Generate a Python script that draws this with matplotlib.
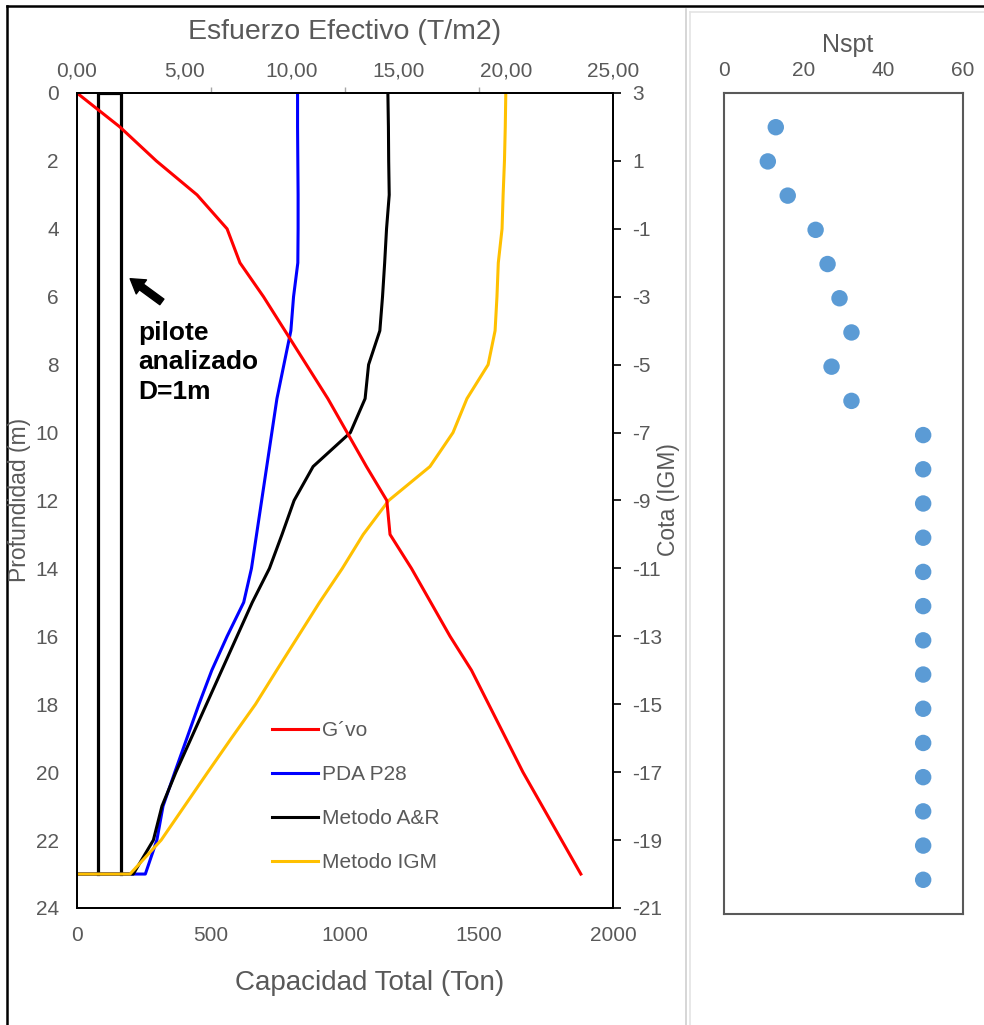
import matplotlib
matplotlib.use('Agg')
import matplotlib.pyplot as plt
from matplotlib.lines import Line2D

plt.rcParams['font.family'] = ['Liberation Sans', 'DejaVu Sans']

GRIS = '#595959'

# profundidad (m) para las curvas
prof = [0, 1, 2, 3, 4, 5, 6, 7, 8, 9, 10, 11, 12, 13, 14, 15, 16, 17, 18, 19, 20, 21, 22, 23]

# esfuerzo efectivo G'vo (T/m2)
gvo = [0, 2.0, 3.7, 5.6, 7.0, 7.6, 8.7, 9.7, 10.7, 11.7, 12.6, 13.5, 14.45, 14.6,
       15.6, 16.5, 17.4, 18.4, 19.2, 20.0, 20.8, 21.7, 22.6, 23.5]

# capacidad total (Ton)
pda_p28 = [823, 823, 824, 825, 825, 824, 808, 798, 772, 746, 727, 708, 689, 670,
           651, 622, 560, 503, 455, 410, 365, 321, 298, 255]
metodo_ar = [1160, 1162, 1163, 1165, 1155, 1148, 1140, 1130, 1088, 1075, 1020, 881, 810, 765,
             718, 654, 597, 540, 483, 426, 369, 317, 285, 210]
metodo_igm = [1600, 1598, 1595, 1590, 1586, 1572, 1567, 1560, 1534, 1455, 1403, 1317, 1163, 1068,
              990, 905, 825, 745, 666, 576, 488, 401, 314, 198]

# pilote analizado (Ton, m)
pilote_x = [79, 79, 163, 163]
pilote_y = [23, 0, 0, 23]

# Nspt
prof_spt = [1, 2, 3, 4, 5, 6, 7, 8, 9, 10, 11, 12, 13, 14, 15, 16, 17, 18, 19, 20, 21, 22, 23]
nspt = [13, 11, 16, 23, 26, 29, 32, 27, 32, 50, 50, 50, 50, 50, 50, 50, 50, 50, 50, 50, 50, 50, 50]

W, H = 984, 1025
fig = plt.figure(figsize=(W / 100, H / 100), dpi=100)


def fx(px):
    return px / W


def fy(py):
    return 1 - py / H


# ---------- grafico principal ----------
ax = fig.add_axes([fx(77), fy(908), fx(613 - 77), (908 - 93) / H])
ax.set_xlim(0, 2000)
ax.set_ylim(24, 0)

ax.plot(pilote_x, pilote_y, color='black', lw=2.3, solid_joinstyle='miter')
l_pda, = ax.plot(pda_p28 + [200, 0], prof + [23, 23], color='#0000ff', lw=2.2)
l_ar, = ax.plot(metodo_ar + [0], prof + [23], color='black', lw=2.2)
l_igm, = ax.plot(metodo_igm + [0], prof + [23], color='#ffc000', lw=2.2)

ax.set_xticks([0, 500, 1000, 1500, 2000])
ax.set_yticks(range(0, 25, 2))
ax.tick_params(axis='x', length=0, pad=13, labelsize=15, labelcolor=GRIS)
ax.tick_params(axis='y', length=0, pad=13, labelsize=15, labelcolor=GRIS)
for s in ax.spines.values():
    s.set_color('black')
    s.set_linewidth(1.2)

ax.annotate('', xy=(190, 5.42), xytext=(325, 6.2),
            arrowprops=dict(arrowstyle='simple,head_length=1.0,head_width=1.25,tail_width=0.5',
                            color='black'))
ax.text(228, 6.7, 'pilote\nanalizado\nD=1m', fontsize=19, fontweight='bold',
        va='top', ha='left', linespacing=1.3, color='black')

# eje superior: esfuerzo efectivo
ax_top = ax.twiny()
ax_top.set_xlim(0, 25)
l_gvo, = ax_top.plot(gvo, prof, color='#ff0000', lw=2.2)
esf_ticks = [0, 5, 10, 15, 20, 25]
ax_top.set_xticks(esf_ticks)
ax_top.set_xticklabels([f'{v:.2f}'.replace('.', ',') for v in esf_ticks])
ax_top.set_xticks([0, 6.25, 12.5, 18.75, 25], minor=True)
ax_top.tick_params(axis='x', which='major', length=0, pad=9, labelsize=15, labelcolor=GRIS)
ax_top.tick_params(axis='x', which='minor', length=4, width=1, color='#a6a6a6')

# eje derecho: cota
ax_r = ax.twinx()
ax_r.set_ylim(-21, 3)
cotas = list(range(3, -22, -2))
ax_r.set_yticks(cotas)
ax_r.set_yticklabels([str(c) for c in cotas])
ax_r.tick_params(axis='y', length=6, width=1.2, color='black', direction='out',
                 pad=8, labelsize=15, labelcolor=GRIS)
for a in (ax_top, ax_r):
    for s in a.spines.values():
        s.set_color('black')
        s.set_linewidth(1.2)

ax_r.legend([l_gvo, l_pda, l_ar, l_igm], ['G´vo', 'PDA P28', 'Metodo A&R', 'Metodo IGM'],
            loc='upper left', bbox_to_anchor=(fx(272), fy(721)), bbox_transform=fig.transFigure,
            frameon=False, fontsize=15, handlelength=2.2, handletextpad=0.2,
            labelspacing=1.2, borderpad=0, borderaxespad=0, labelcolor=GRIS)

fig.text(fx(345), fy(32), 'Esfuerzo Efectivo (T/m2)', fontsize=20.5, color=GRIS,
         ha='center', va='center')
fig.text(fx(370), fy(983), 'Capacidad Total (Ton)', fontsize=20, color=GRIS,
         ha='center', va='center')
fig.text(fx(20), fy(500), 'Profundidad (m)', fontsize=16.5, color=GRIS,
         ha='center', va='center', rotation=90)
fig.text(fx(669), fy(500), 'Cota (IGM)', fontsize=16.5, color=GRIS,
         ha='center', va='center', rotation=90)

# ---------- grafico Nspt ----------
ax2 = fig.add_axes([fx(724), fy(914), fx(963 - 724), (914 - 93) / H])
ax2.set_xlim(0, 60)
ax2.set_ylim(24, 0)
ax2.scatter(nspt, prof_spt, s=140, color='#5b9bd5', edgecolors='none')
ax2.xaxis.tick_top()
ax2.set_xticks([0, 20, 40, 60])
ax2.set_yticks([])
ax2.tick_params(axis='x', length=0, pad=9, labelsize=15, labelcolor=GRIS)
for s in ax2.spines.values():
    s.set_color(GRIS)
    s.set_linewidth(1.5)
fig.text(fx(848), fy(45), 'Nspt', fontsize=18, color=GRIS, ha='center', va='center')

# marcos
fig.add_artist(Line2D([fx(7), fx(7)], [fy(6), 0], color='black', lw=1.8))
fig.add_artist(Line2D([fx(7), 1], [fy(6), fy(6)], color='black', lw=1.8))
fig.add_artist(Line2D([fx(686), fx(686)], [fy(9), 0], color='#d0d0d0', lw=1.2))
fig.add_artist(Line2D([fx(689.5), fx(689.5)], [fy(12), 0], color='#e4e4e4', lw=1.2))
fig.add_artist(Line2D([fx(689.5), 1], [fy(12), fy(12)], color='#e4e4e4', lw=1.2))

fig.savefig('out.png', dpi=100)
